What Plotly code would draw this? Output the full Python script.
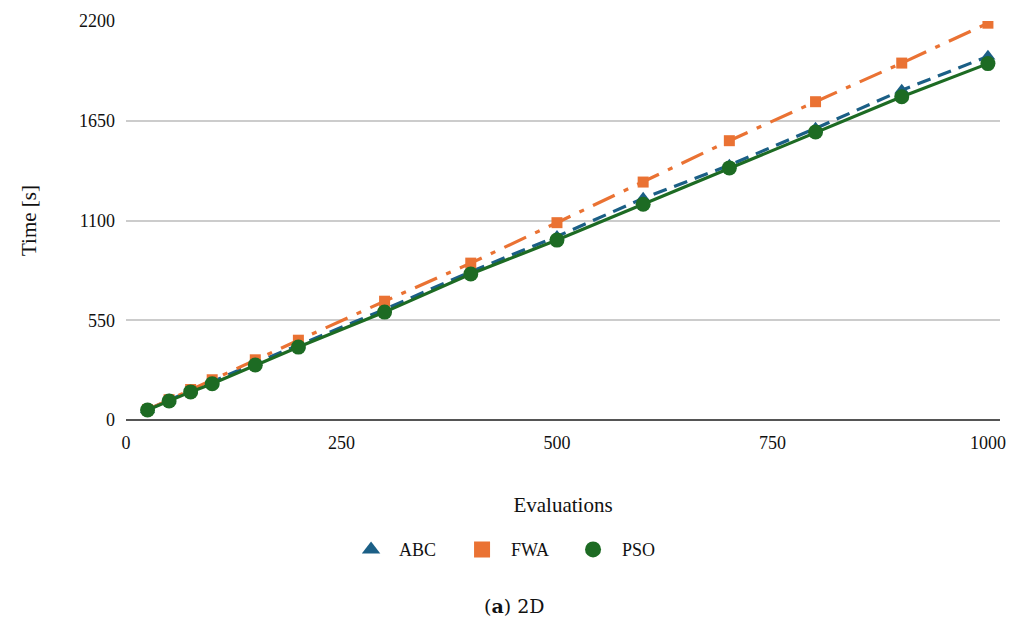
import plotly.graph_objects as go

evaluations = [25, 50, 75, 100, 150, 200, 300, 400, 500, 600, 700, 800, 900, 1000]
abc_time = [57, 110, 162, 210, 315, 412, 610, 818, 1012, 1222, 1405, 1608, 1818, 2005]
fwa_time = [57, 112, 168, 222, 332, 440, 655, 865, 1088, 1312, 1540, 1755, 1968, 2188]
pso_time = [55, 105, 155, 200, 303, 402, 595, 805, 992, 1190, 1390, 1588, 1782, 1965]
x_ticks = [0, 250, 500, 750, 1000]
y_ticks = [0, 550, 1100, 1650, 2200]

C_ABC = "#1b5f86"
C_FWA = "#ea7233"
C_PSO = "#1d6b23"
FONT = "Times New Roman, Liberation Serif, serif"

fig = go.Figure()
series = [
    ("ABC", abc_time, C_ABC, "14px,8px", "triangle-up", 13, 19),
    ("FWA", fwa_time, C_FWA, "24px,10px,5px,10px", "square", 11, 16),
    ("PSO", pso_time, C_PSO, "solid", "circle", 15, 21),
]
for name, ys, col, dash, sym, ms, lms in series:
    fig.add_trace(go.Scatter(
        x=evaluations, y=ys, mode="lines+markers", name=name, showlegend=False,
        line=dict(color=col, width=3.2, dash=dash),
        marker=dict(color=col, symbol=sym, size=ms),
    ))
for name, ys, col, dash, sym, ms, lms in series:
    fig.add_trace(go.Scatter(
        x=[None], y=[None], mode="markers", name="  " + name, showlegend=True,
        marker=dict(color=col, symbol=sym, size=lms),
    ))

fig.update_layout(
    width=1027, height=635,
    paper_bgcolor="white", plot_bgcolor="white",
    margin=dict(l=126, r=27, t=21, b=215),
    font=dict(family=FONT, size=16, color="#222222"),
    xaxis=dict(
        range=[0, 1014], tickvals=x_ticks, showgrid=False, zeroline=False,
        showline=False, ticks="", ticklabelstandoff=10,
        tickfont=dict(size=18, color="#111111"),
        title=dict(text="Evaluations", font=dict(size=21, color="#111111"), standoff=45),
    ),
    yaxis=dict(
        range=[0, 2200], tickvals=y_ticks, showgrid=True, gridcolor="#cccccc", gridwidth=1.5,
        zeroline=True, zerolinecolor="#555555", zerolinewidth=2,
        ticks="", ticklabelstandoff=10, tickfont=dict(size=18, color="#111111"),
        title=dict(text="Time [s]", font=dict(size=21, color="#111111"), standoff=36),
    ),
    legend=dict(
        orientation="h", x=0.448, xanchor="center", y=-0.325, yanchor="middle",
        font=dict(size=18, color="#111111"), entrywidth=66, entrywidthmode="pixels",
        tracegroupgap=0,
    ),
    annotations=[dict(
        text="(<b>a</b>) 2D", xref="paper", yref="paper", x=0.445, y=-0.465,
        xanchor="center", yanchor="middle", showarrow=False,
        font=dict(family="DejaVu Serif", size=19, color="#111111"),
    )],
)

fig.write_html("out.html")
